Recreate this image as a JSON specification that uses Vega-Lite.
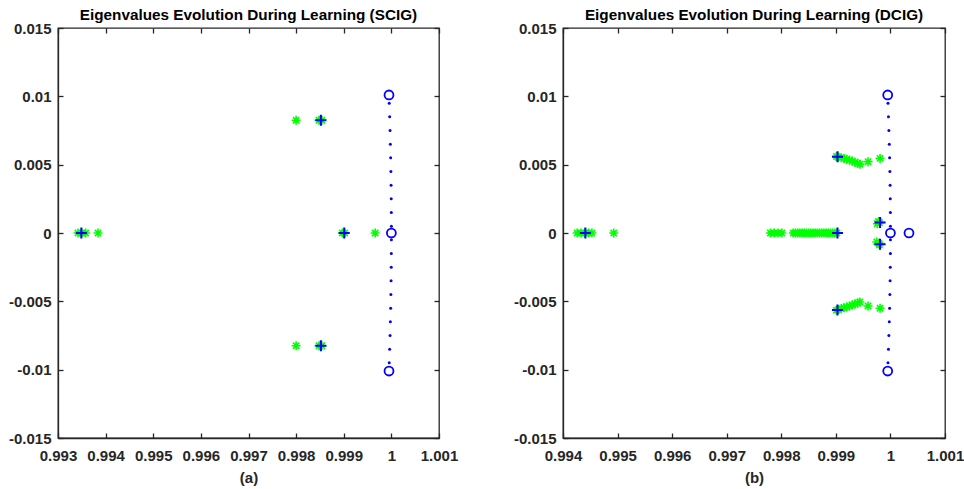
{
  "$schema": "https://vega.github.io/schema/vega-lite/v6.json",
  "background": "white",
  "padding": {"left": 7, "top": 7, "right": 0, "bottom": 3},
  "spacing": 53,
  "config": {
    "font": "Liberation Sans",
    "view": {"stroke": "#262626", "strokeWidth": 1.3},
    "axis": {
      "grid": false,
      "domainColor": "#262626",
      "domainWidth": 1.3,
      "tickColor": "#262626",
      "tickWidth": 1.3,
      "tickSize": -5,
      "labelColor": "#262626",
      "labelFont": "Liberation Sans",
      "labelFontWeight": "bold",
      "labelFontSize": 15,
      "labelOverlap": false,
      "labelFlush": false,
      "titleFont": "Liberation Sans",
      "titleFontWeight": "bold",
      "titleFontSize": 15,
      "titleColor": "#262626"
    },
    "axisX": {"labelPadding": 15},
    "axisY": {"labelPadding": 12},
    "title": {"font": "Liberation Sans", "fontSize": 15.3, "fontWeight": "bold", "color": "black", "offset": -2}
  },
  "datasets": {
    "a": [
      {"t": "g", "x": 0.99342, "y": 0},
      {"t": "g", "x": 0.99350, "y": 0},
      {"t": "g", "x": 0.99358, "y": 0},
      {"t": "g", "x": 0.99384, "y": 0},
      {"t": "g", "x": 0.99800, "y": 0.00825},
      {"t": "g", "x": 0.99848, "y": 0.00825},
      {"t": "g", "x": 0.99854, "y": 0.00825},
      {"t": "g", "x": 0.99800, "y": -0.00825},
      {"t": "g", "x": 0.99848, "y": -0.00825},
      {"t": "g", "x": 0.99854, "y": -0.00825},
      {"t": "g", "x": 0.99897, "y": 0},
      {"t": "g", "x": 0.99902, "y": 0},
      {"t": "g", "x": 0.99966, "y": 0},
      {"t": "p", "x": 0.99349, "y": 0},
      {"t": "p", "x": 0.99852, "y": 0.00825},
      {"t": "p", "x": 0.99852, "y": -0.00825},
      {"t": "p", "x": 0.99901, "y": 0},
      {"t": "o", "x": 0.99995, "y": 0.0101},
      {"t": "o", "x": 0.99995, "y": -0.0101},
      {"t": "o", "x": 1.0, "y": 0},
      {"t": "d", "x": 1.0, "y": 0.0005},
      {"t": "d", "x": 0.999999, "y": 0.0015},
      {"t": "d", "x": 0.999997, "y": 0.0025},
      {"t": "d", "x": 0.999994, "y": 0.0035},
      {"t": "d", "x": 0.99999, "y": 0.0045},
      {"t": "d", "x": 0.999985, "y": 0.0055},
      {"t": "d", "x": 0.999979, "y": 0.0065},
      {"t": "d", "x": 0.999972, "y": 0.0075},
      {"t": "d", "x": 0.999964, "y": 0.0085},
      {"t": "d", "x": 0.999955, "y": 0.0095},
      {"t": "d", "x": 1.0, "y": -0.0005},
      {"t": "d", "x": 0.999999, "y": -0.0015},
      {"t": "d", "x": 0.999997, "y": -0.0025},
      {"t": "d", "x": 0.999994, "y": -0.0035},
      {"t": "d", "x": 0.99999, "y": -0.0045},
      {"t": "d", "x": 0.999985, "y": -0.0055},
      {"t": "d", "x": 0.999979, "y": -0.0065},
      {"t": "d", "x": 0.999972, "y": -0.0075},
      {"t": "d", "x": 0.999964, "y": -0.0085},
      {"t": "d", "x": 0.999955, "y": -0.0095}
    ],
    "b": [
      {"t": "g", "x": 0.99426, "y": 0},
      {"t": "g", "x": 0.99433, "y": 0},
      {"t": "g", "x": 0.99440, "y": 0},
      {"t": "g", "x": 0.99447, "y": 0},
      {"t": "g", "x": 0.99453, "y": 0},
      {"t": "g", "x": 0.99493, "y": 0},
      {"t": "g", "x": 0.99780, "y": 0},
      {"t": "g", "x": 0.99787, "y": 0},
      {"t": "g", "x": 0.99794, "y": 0},
      {"t": "g", "x": 0.99801, "y": 0},
      {"t": "g", "x": 0.99822, "y": 0},
      {"t": "g", "x": 0.99826, "y": 0},
      {"t": "g", "x": 0.99830, "y": 0},
      {"t": "g", "x": 0.99834, "y": 0},
      {"t": "g", "x": 0.99838, "y": 0},
      {"t": "g", "x": 0.99842, "y": 0},
      {"t": "g", "x": 0.99846, "y": 0},
      {"t": "g", "x": 0.99850, "y": 0},
      {"t": "g", "x": 0.99854, "y": 0},
      {"t": "g", "x": 0.99858, "y": 0},
      {"t": "g", "x": 0.99862, "y": 0},
      {"t": "g", "x": 0.99866, "y": 0},
      {"t": "g", "x": 0.99870, "y": 0},
      {"t": "g", "x": 0.99874, "y": 0},
      {"t": "g", "x": 0.99878, "y": 0},
      {"t": "g", "x": 0.99882, "y": 0},
      {"t": "g", "x": 0.99886, "y": 0},
      {"t": "g", "x": 0.99890, "y": 0},
      {"t": "g", "x": 0.99894, "y": 0},
      {"t": "g", "x": 0.99898, "y": 0},
      {"t": "g", "x": 0.99902, "y": 0},
      {"t": "g", "x": 0.99976, "y": 0.00068},
      {"t": "g", "x": 0.99980, "y": 0.00076},
      {"t": "g", "x": 0.99978, "y": 0.00084},
      {"t": "g", "x": 0.99975, "y": -0.00066},
      {"t": "g", "x": 0.99979, "y": -0.00076},
      {"t": "g", "x": 0.99980, "y": -0.00086},
      {"t": "g", "x": 0.99901, "y": 0.00560},
      {"t": "g", "x": 0.99905, "y": 0.00556},
      {"t": "g", "x": 0.99910, "y": 0.00551},
      {"t": "g", "x": 0.99915, "y": 0.00546},
      {"t": "g", "x": 0.99920, "y": 0.00540},
      {"t": "g", "x": 0.99925, "y": 0.00533},
      {"t": "g", "x": 0.99930, "y": 0.00526},
      {"t": "g", "x": 0.99935, "y": 0.00518},
      {"t": "g", "x": 0.99940, "y": 0.00510},
      {"t": "g", "x": 0.99944, "y": 0.00503},
      {"t": "g", "x": 0.99959, "y": 0.00522},
      {"t": "g", "x": 0.99981, "y": 0.00546},
      {"t": "g", "x": 0.99901, "y": -0.00565},
      {"t": "g", "x": 0.99905, "y": -0.00560},
      {"t": "g", "x": 0.99910, "y": -0.00553},
      {"t": "g", "x": 0.99915, "y": -0.00547},
      {"t": "g", "x": 0.99920, "y": -0.00541},
      {"t": "g", "x": 0.99925, "y": -0.00534},
      {"t": "g", "x": 0.99930, "y": -0.00527},
      {"t": "g", "x": 0.99935, "y": -0.00519},
      {"t": "g", "x": 0.99940, "y": -0.00512},
      {"t": "g", "x": 0.99944, "y": -0.00505},
      {"t": "g", "x": 0.99959, "y": -0.00534},
      {"t": "g", "x": 0.99981, "y": -0.00551},
      {"t": "p", "x": 0.99441, "y": 0},
      {"t": "p", "x": 0.99903, "y": 0},
      {"t": "p", "x": 0.99903, "y": 0.00558},
      {"t": "p", "x": 0.99903, "y": -0.00563},
      {"t": "p", "x": 0.99981, "y": 0.00076},
      {"t": "p", "x": 0.99981, "y": -0.00082},
      {"t": "o", "x": 1.0, "y": 0},
      {"t": "o", "x": 1.00034, "y": 0},
      {"t": "o", "x": 0.99995, "y": 0.0101},
      {"t": "o", "x": 0.99995, "y": -0.0101},
      {"t": "d", "x": 1.0, "y": 0.0005},
      {"t": "d", "x": 0.999999, "y": 0.0015},
      {"t": "d", "x": 0.999997, "y": 0.0025},
      {"t": "d", "x": 0.999994, "y": 0.0035},
      {"t": "d", "x": 0.99999, "y": 0.0045},
      {"t": "d", "x": 0.999985, "y": 0.0055},
      {"t": "d", "x": 0.999979, "y": 0.0065},
      {"t": "d", "x": 0.999972, "y": 0.0075},
      {"t": "d", "x": 0.999964, "y": 0.0085},
      {"t": "d", "x": 0.999955, "y": 0.0095},
      {"t": "d", "x": 1.0, "y": -0.0005},
      {"t": "d", "x": 0.999999, "y": -0.0015},
      {"t": "d", "x": 0.999997, "y": -0.0025},
      {"t": "d", "x": 0.999994, "y": -0.0035},
      {"t": "d", "x": 0.99999, "y": -0.0045},
      {"t": "d", "x": 0.999985, "y": -0.0055},
      {"t": "d", "x": 0.999979, "y": -0.0065},
      {"t": "d", "x": 0.999972, "y": -0.0075},
      {"t": "d", "x": 0.999964, "y": -0.0085},
      {"t": "d", "x": 0.999955, "y": -0.0095}
    ]
  },
  "hconcat": [
    {
      "title": "Eigenvalues Evolution During Learning (SCIG)",
      "width": 381,
      "height": 410,
      "data": {"name": "a"},
      "resolve": {"axis": {"x": "independent", "y": "independent"}},
      "layer": [
        {
          "transform": [{"filter": "datum.t == 'g'"}],
          "mark": {"type": "point", "shape": "M-1,0L1,0M0,-1L0,1M-0.7,-0.7L0.7,0.7M-0.7,0.7L0.7,-0.7", "filled": false, "stroke": "#00ff00", "strokeWidth": 1.6, "size": 81, "opacity": 1},
          "encoding": {
            "x": {"field": "x", "type": "quantitative", "scale": {"domain": [0.993, 1.001], "nice": false, "zero": false},
                  "axis": {"orient": "bottom", "title": "(a)", "values": [0.993, 0.994, 0.995, 0.996, 0.997, 0.998, 0.999, 1, 1.001], "labelExpr": "replace(format(datum.value, '~g'), '\u2212', '-')", "titlePadding": 7}},
            "y": {"field": "y", "type": "quantitative", "scale": {"domain": [-0.015, 0.015], "nice": false, "zero": false},
                  "axis": {"orient": "left", "title": null, "values": [-0.015, -0.01, -0.005, 0, 0.005, 0.01, 0.015], "labelExpr": "replace(format(datum.value, '~g'), '\u2212', '-')"}}
          }
        },
        {
          "transform": [{"filter": "datum.t == 'p'"}],
          "mark": {"type": "point", "shape": "M-1,0L1,0M0,-1L0,1", "filled": false, "stroke": "#0000ff", "strokeWidth": 2, "size": 121, "opacity": 1},
          "encoding": {
            "x": {"field": "x", "type": "quantitative", "scale": {"domain": [0.993, 1.001], "nice": false, "zero": false}, "axis": null},
            "y": {"field": "y", "type": "quantitative", "scale": {"domain": [-0.015, 0.015], "nice": false, "zero": false}, "axis": null}
          }
        },
        {
          "transform": [{"filter": "datum.t == 'o'"}],
          "mark": {"type": "point", "shape": "circle", "filled": false, "stroke": "#0000ff", "strokeWidth": 1.8, "size": 80, "opacity": 1},
          "encoding": {
            "x": {"field": "x", "type": "quantitative", "scale": {"domain": [0.993, 1.001], "nice": false, "zero": false}, "axis": null},
            "y": {"field": "y", "type": "quantitative", "scale": {"domain": [-0.015, 0.015], "nice": false, "zero": false}, "axis": null}
          }
        },
        {
          "transform": [{"filter": "datum.t == 'd'"}],
          "mark": {"type": "circle", "color": "#0000ff", "size": 9, "opacity": 1},
          "encoding": {
            "x": {"field": "x", "type": "quantitative", "scale": {"domain": [0.993, 1.001], "nice": false, "zero": false},
                  "axis": {"orient": "top", "title": null, "labels": false, "domain": false, "values": [0.993, 0.994, 0.995, 0.996, 0.997, 0.998, 0.999, 1, 1.001]}},
            "y": {"field": "y", "type": "quantitative", "scale": {"domain": [-0.015, 0.015], "nice": false, "zero": false},
                  "axis": {"orient": "right", "title": null, "labels": false, "domain": false, "values": [-0.015, -0.01, -0.005, 0, 0.005, 0.01, 0.015]}}
          }
        }
      ]
    },
    {
      "title": "Eigenvalues Evolution During Learning (DCIG)",
      "width": 382,
      "height": 410,
      "data": {"name": "b"},
      "resolve": {"axis": {"x": "independent", "y": "independent"}},
      "layer": [
        {
          "transform": [{"filter": "datum.t == 'g'"}],
          "mark": {"type": "point", "shape": "M-1,0L1,0M0,-1L0,1M-0.7,-0.7L0.7,0.7M-0.7,0.7L0.7,-0.7", "filled": false, "stroke": "#00ff00", "strokeWidth": 1.6, "size": 81, "opacity": 1},
          "encoding": {
            "x": {"field": "x", "type": "quantitative", "scale": {"domain": [0.994, 1.001], "nice": false, "zero": false},
                  "axis": {"orient": "bottom", "title": "(b)", "values": [0.994, 0.995, 0.996, 0.997, 0.998, 0.999, 1, 1.001], "labelExpr": "replace(format(datum.value, '~g'), '\u2212', '-')", "titlePadding": 7}},
            "y": {"field": "y", "type": "quantitative", "scale": {"domain": [-0.015, 0.015], "nice": false, "zero": false},
                  "axis": {"orient": "left", "title": null, "values": [-0.015, -0.01, -0.005, 0, 0.005, 0.01, 0.015], "labelExpr": "replace(format(datum.value, '~g'), '\u2212', '-')"}}
          }
        },
        {
          "transform": [{"filter": "datum.t == 'p'"}],
          "mark": {"type": "point", "shape": "M-1,0L1,0M0,-1L0,1", "filled": false, "stroke": "#0000ff", "strokeWidth": 2, "size": 121, "opacity": 1},
          "encoding": {
            "x": {"field": "x", "type": "quantitative", "scale": {"domain": [0.994, 1.001], "nice": false, "zero": false}, "axis": null},
            "y": {"field": "y", "type": "quantitative", "scale": {"domain": [-0.015, 0.015], "nice": false, "zero": false}, "axis": null}
          }
        },
        {
          "transform": [{"filter": "datum.t == 'o'"}],
          "mark": {"type": "point", "shape": "circle", "filled": false, "stroke": "#0000ff", "strokeWidth": 1.8, "size": 80, "opacity": 1},
          "encoding": {
            "x": {"field": "x", "type": "quantitative", "scale": {"domain": [0.994, 1.001], "nice": false, "zero": false}, "axis": null},
            "y": {"field": "y", "type": "quantitative", "scale": {"domain": [-0.015, 0.015], "nice": false, "zero": false}, "axis": null}
          }
        },
        {
          "transform": [{"filter": "datum.t == 'd'"}],
          "mark": {"type": "circle", "color": "#0000ff", "size": 9, "opacity": 1},
          "encoding": {
            "x": {"field": "x", "type": "quantitative", "scale": {"domain": [0.994, 1.001], "nice": false, "zero": false},
                  "axis": {"orient": "top", "title": null, "labels": false, "domain": false, "values": [0.994, 0.995, 0.996, 0.997, 0.998, 0.999, 1, 1.001]}},
            "y": {"field": "y", "type": "quantitative", "scale": {"domain": [-0.015, 0.015], "nice": false, "zero": false},
                  "axis": {"orient": "right", "title": null, "labels": false, "domain": false, "values": [-0.015, -0.01, -0.005, 0, 0.005, 0.01, 0.015]}}
          }
        }
      ]
    }
  ]
}
